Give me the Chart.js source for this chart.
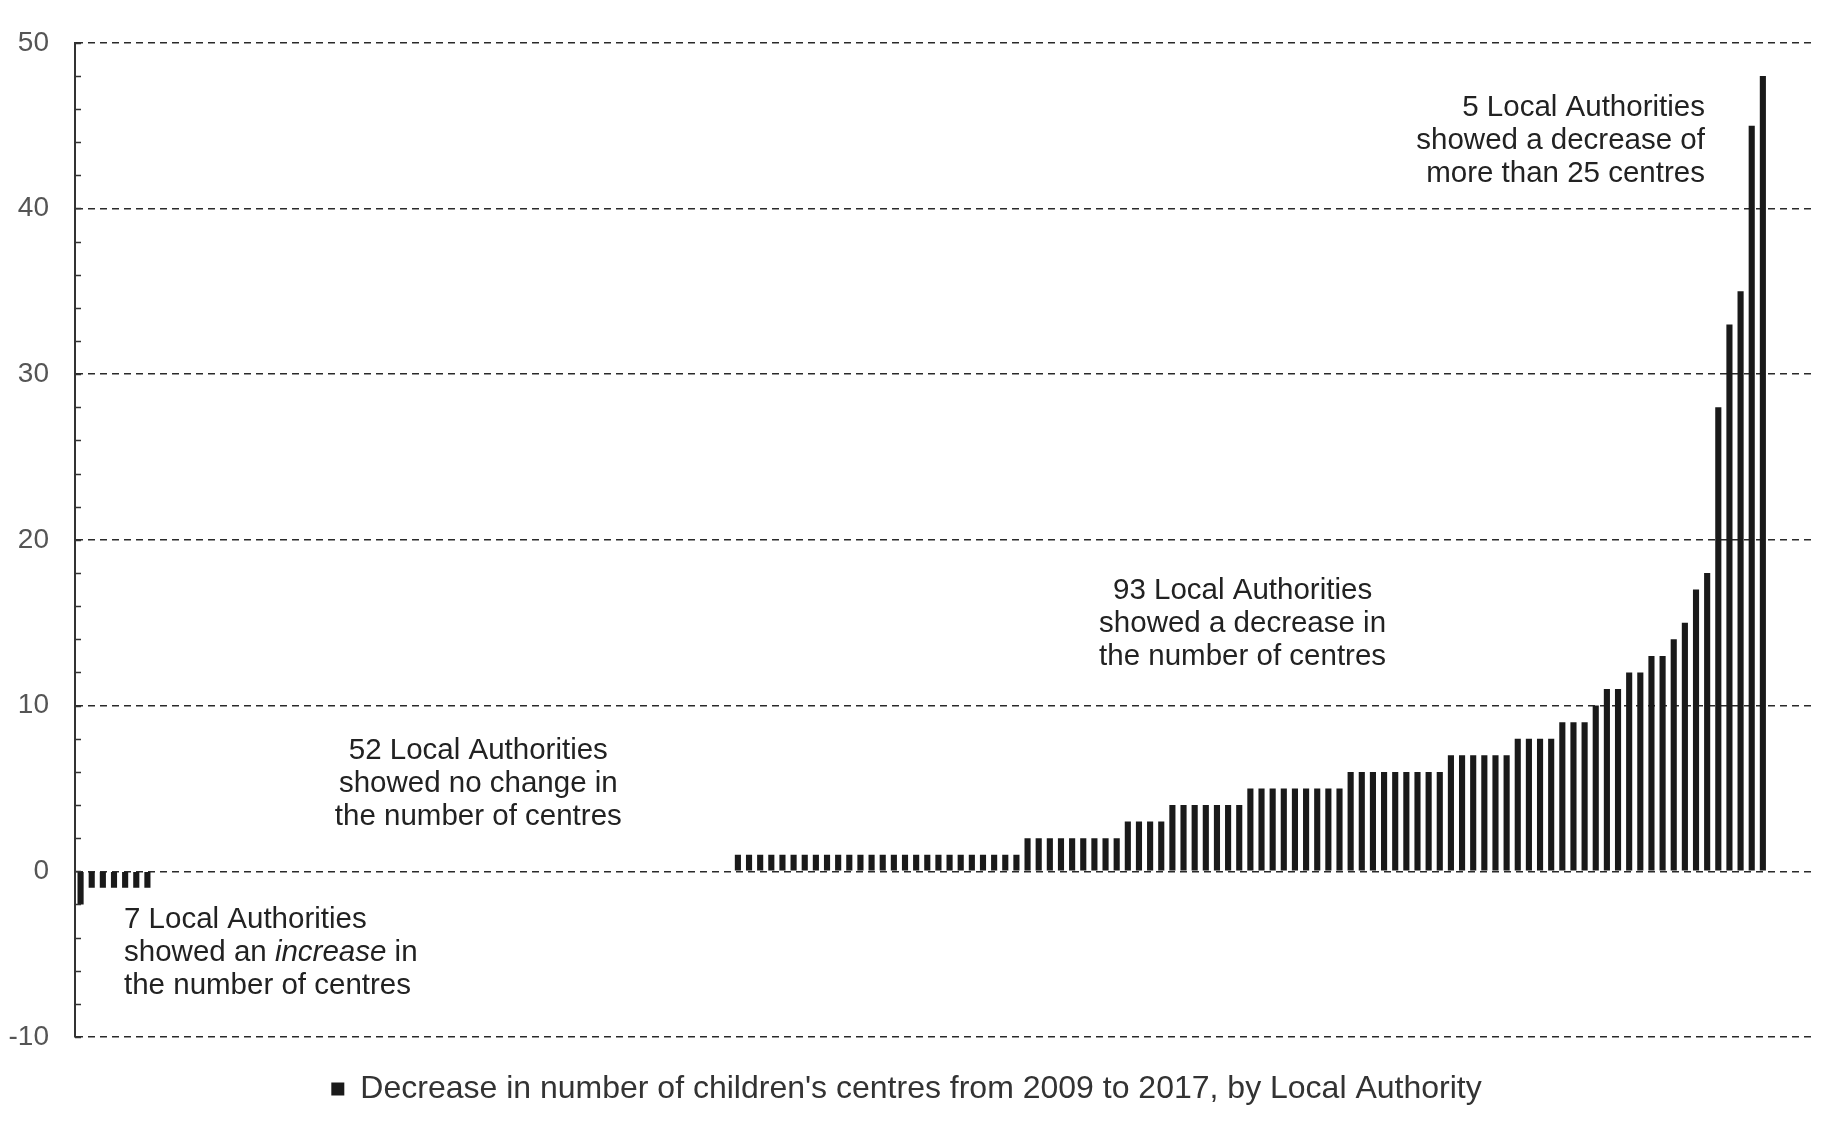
<!DOCTYPE html>
<html>
<head>
<meta charset="utf-8">
<script src="https://cdn.jsdelivr.net/npm/chart.js@4.4.1/dist/chart.umd.min.js"></script>
<style>
  body { margin: 0; background: #ffffff; }
  #wrap { width: 1835px; height: 1124px; }
</style>
</head>
<body>
<div id="wrap"><canvas id="laChart" width="1835" height="1124"></canvas></div>
<script>
/* the data */
// 7 LAs went up, 52 stayed the same, 93 went down
var increaseVals = [-2, -1, -1, -1, -1, -1, -1];
var noChangeVals = [0, 0, 0, 0, 0, 0, 0, 0, 0, 0, 0, 0, 0, 0, 0, 0, 0, 0, 0, 0, 0, 0, 0, 0, 0, 0,
  0, 0, 0, 0, 0, 0, 0, 0, 0, 0, 0, 0, 0, 0, 0, 0, 0, 0, 0, 0, 0, 0, 0, 0, 0, 0];
var decreaseVals = [1, 1, 1, 1, 1, 1, 1, 1, 1, 1, 1, 1, 1, 1, 1, 1, 1, 1, 1, 1, 1, 1, 1, 1, 1, 1,
  2, 2, 2, 2, 2, 2, 2, 2, 2,
  3, 3, 3, 3,
  4, 4, 4, 4, 4, 4, 4,
  5, 5, 5, 5, 5, 5, 5, 5, 5,
  6, 6, 6, 6, 6, 6, 6, 6, 6,
  7, 7, 7, 7, 7, 7,
  8, 8, 8, 8,
  9, 9, 9,
  10, 11, 11, 12, 12, 13, 13, 14, 15, 17, 18, 28, 33, 35, 45, 48];
var emptySlots = [null, null, null, null]; // blank space at the right end of the axis

var yTicks = [-10, 0, 10, 20, 30, 40, 50];
var legendLabel = "Decrease in number of children's centres from 2009 to 2017, by Local Authority";

// annotation text, _word_ means italic
var noteText = [
  ['7 Local Authorities', 'showed an _increase_ in', 'the number of centres'],
  ['52 Local Authorities', 'showed no change in', 'the number of centres'],
  ['93 Local Authorities', 'showed a decrease in', 'the number of centres'],
  ['5 Local Authorities', 'showed a decrease of', 'more than 25 centres']
];
// where each note sits: [category index, value of first line, alignment]
var noteAnchor = [
  [3.9, -2.94, 'left'],
  [35.7, 7.26, 'center'],
  [104.3, 16.93, 'center'],
  [145.8, 46.07, 'right']
];

var allVals = increaseVals.concat(noChangeVals, decreaseVals, emptySlots);
var laLabels = allVals.map(function (v, i) { return 'LA ' + (i + 1); });

var fontFam = '"Liberation Sans", Arial, sans-serif';
var noteSize = 29.5;

// draw the little minor ticks on the y axis + the text notes
var extrasPlugin = {
  id: 'extras',
  afterDraw: function (chart) {
    var ctx = chart.ctx;
    var y = chart.scales.y;
    var x = chart.scales.x;
    var left = chart.chartArea.left;

    ctx.save();
    ctx.strokeStyle = '#333';
    ctx.lineWidth = 1.5;
    for (var v = yTicks[0]; v <= yTicks[yTicks.length - 1]; v += 2) {
      var py = Math.round(y.getPixelForValue(v)) + 0.5;
      ctx.beginPath();
      ctx.moveTo(left, py);
      ctx.lineTo(left + 6, py);
      ctx.stroke();
    }
    ctx.restore();

    // notes
    ctx.save();
    ctx.fillStyle = '#222';
    ctx.textBaseline = 'middle';
    var lineH = 33;
    for (var n = 0; n < noteText.length; n++) {
      var ax = x.getPixelForValue(noteAnchor[n][0]);
      var ay = y.getPixelForValue(noteAnchor[n][1]);
      var align = noteAnchor[n][2];
      for (var l = 0; l < noteText[n].length; l++) {
        // split into plain / italic pieces
        var parts = noteText[n][l].split('_');
        var widths = [];
        var total = 0;
        for (var p = 0; p < parts.length; p++) {
          ctx.font = (p % 2 ? 'italic ' : '') + noteSize + 'px ' + fontFam;
          widths.push(ctx.measureText(parts[p]).width);
          total += widths[p];
        }
        var sx = ax;
        if (align === 'center') sx = ax - total / 2;
        if (align === 'right') sx = ax - total;
        ctx.textAlign = 'left';
        for (p = 0; p < parts.length; p++) {
          ctx.font = (p % 2 ? 'italic ' : '') + noteSize + 'px ' + fontFam;
          ctx.fillText(parts[p], sx, ay + l * lineH);
          sx += widths[p];
        }
      }
    }
    ctx.restore();
  }
};

new Chart(document.getElementById('laChart').getContext('2d'), {
  type: 'bar',
  data: {
    labels: laLabels,
    datasets: [{
      label: legendLabel,
      data: allVals,
      backgroundColor: '#1a1a1a',
      borderWidth: 0,
      barPercentage: 0.55,
      categoryPercentage: 1
    }]
  },
  options: {
    responsive: false,
    animation: false,
    devicePixelRatio: 1,
    layout: { padding: { left: 0, right: 22, top: 37, bottom: 9 } },
    scales: {
      x: {
        ticks: { display: false },
        grid: { display: false },
        border: { display: false },
        afterFit: function (s) { s.height = 26; }
      },
      y: {
        min: -10,
        max: 50,
        afterBuildTicks: function (s) {
          s.ticks = yTicks.map(function (v) { return { value: v }; });
        },
        afterFit: function (s) { s.width = 75; },
        ticks: {
          padding: 26,
          color: '#555',
          font: { family: fontFam, size: 28 }
        },
        grid: {
          color: '#2a2a2a',
          lineWidth: 1.5,
          drawTicks: false
        },
        border: {
          display: true,
          color: '#333',
          width: 2,
          dash: [7, 5]
        }
      }
    },
    plugins: {
      tooltip: { enabled: false },
      legend: {
        position: 'bottom',
        labels: {
          color: '#333',
          font: { family: fontFam, size: 32 },
          boxWidth: 13,
          boxHeight: 13,
          padding: 10
        }
      }
    }
  },
  plugins: [extrasPlugin]
});
</script>
</body>
</html>
